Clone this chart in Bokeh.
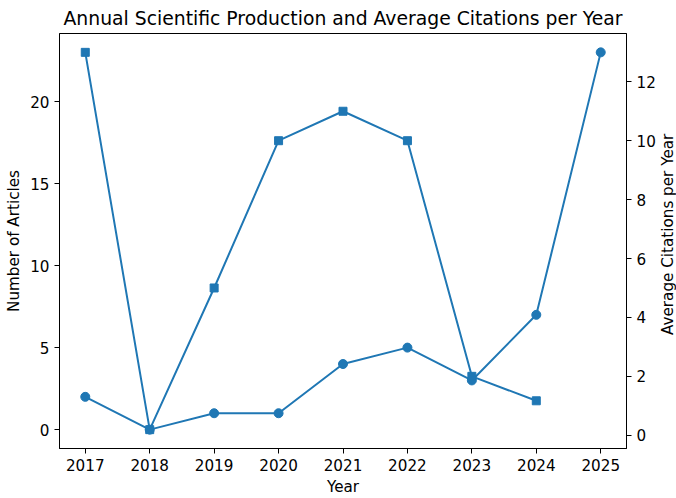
import math
from bokeh.plotting import figure
from bokeh.models import Range1d, LinearAxis, FixedTicker
from bokeh.layouts import row
from bokeh.embed import file_html
from bokeh.resources import INLINE

years = [2017, 2018, 2019, 2020, 2021, 2022, 2023, 2024, 2025]
articles = [2, 0, 1, 1, 4, 5, 3, 7, 23]
cit_years = [2017, 2018, 2019, 2020, 2021, 2022, 2023, 2024]
avg_citations = [13.0, 0.19, 5.0, 10.0, 11.0, 10.0, 2.0, 1.17]

BLUE = "#1f77b4"
FONT = "DejaVu Sans"
TICK_PX = "15.2px"

MAIN_W, STRIP_W, H = 658, 18, 498
TOP, BOTTOM = 30, 46

p = figure(width=MAIN_W, height=H, output_backend="svg", toolbar_location=None,
           x_range=Range1d(2016.6, 2025.4), y_range=Range1d(-1.15, 24.15),
           min_border_left=59, min_border_right=31, min_border_top=TOP,
           min_border_bottom=BOTTOM,
           title="Annual Scientific Production and Average Citations per Year")
p.extra_y_ranges = {"cit": Range1d(-0.45, 13.64)}

p.title.align = "center"
p.title.text_font = FONT
p.title.text_font_size = "18.8px"
p.title.text_font_style = "normal"
p.title.text_color = "black"
p.title.offset = 0

p.grid.visible = False
p.outline_line_color = "black"
p.outline_line_alpha = 1
p.outline_line_width = 1
p.background_fill_color = "white"
p.border_fill_color = "white"

right_axis = LinearAxis(y_range_name="cit")
p.add_layout(right_axis, "right")

p.xaxis.ticker = FixedTicker(ticks=years)
p.xaxis.axis_label = "Year"
p.yaxis[0].ticker = FixedTicker(ticks=[0, 5, 10, 15, 20])
p.yaxis[0].axis_label = "Number of Articles"
right_axis.ticker = FixedTicker(ticks=[0, 2, 4, 6, 8, 10, 12])

for ax in p.xaxis + p.yaxis:
    ax.major_label_text_font = FONT
    ax.major_label_text_font_size = TICK_PX
    ax.major_label_text_color = "black"
    ax.axis_label_text_font = FONT
    ax.axis_label_text_font_size = TICK_PX
    ax.axis_label_text_font_style = "normal"
    ax.axis_label_text_color = "black"
    ax.axis_line_color = "black"
    ax.major_tick_line_color = "black"
    ax.major_tick_out = 5
    ax.major_tick_in = 0
    ax.minor_tick_line_color = None
    ax.major_label_standoff = 5
    ax.axis_label_standoff = 4

# articles per year (left axis)
p.line(years, articles, line_color=BLUE, line_width=2)
p.scatter(years, articles, marker="circle", size=9, fill_color=BLUE, line_color=BLUE)

# average citations per year (right axis)
p.line(cit_years, avg_citations, line_color=BLUE, line_width=2, y_range_name="cit")
p.scatter(cit_years, avg_citations, marker="square", size=8, fill_color=BLUE,
          line_color=BLUE, y_range_name="cit")

# narrow strip carrying the right-hand axis title, reading bottom to top
strip = figure(width=STRIP_W, height=H, output_backend="svg", toolbar_location=None,
               x_range=Range1d(0, STRIP_W), y_range=Range1d(H, 0),
               min_border=0, outline_line_color=None)
strip.axis.visible = False
strip.grid.visible = False
strip.border_fill_color = "white"
strip.background_fill_color = "white"
frame_mid = TOP + (H - TOP - BOTTOM) / 2
strip.text(x=[9.5], y=[frame_mid], text=["Average Citations per Year"],
           angle=math.pi / 2, text_align="center", text_baseline="alphabetic",
           text_font={"value": FONT}, text_font_size={"value": TICK_PX},
           text_color="black")

layout = row(p, strip, spacing=0)
open("out.html", "w").write(file_html(layout, INLINE))
